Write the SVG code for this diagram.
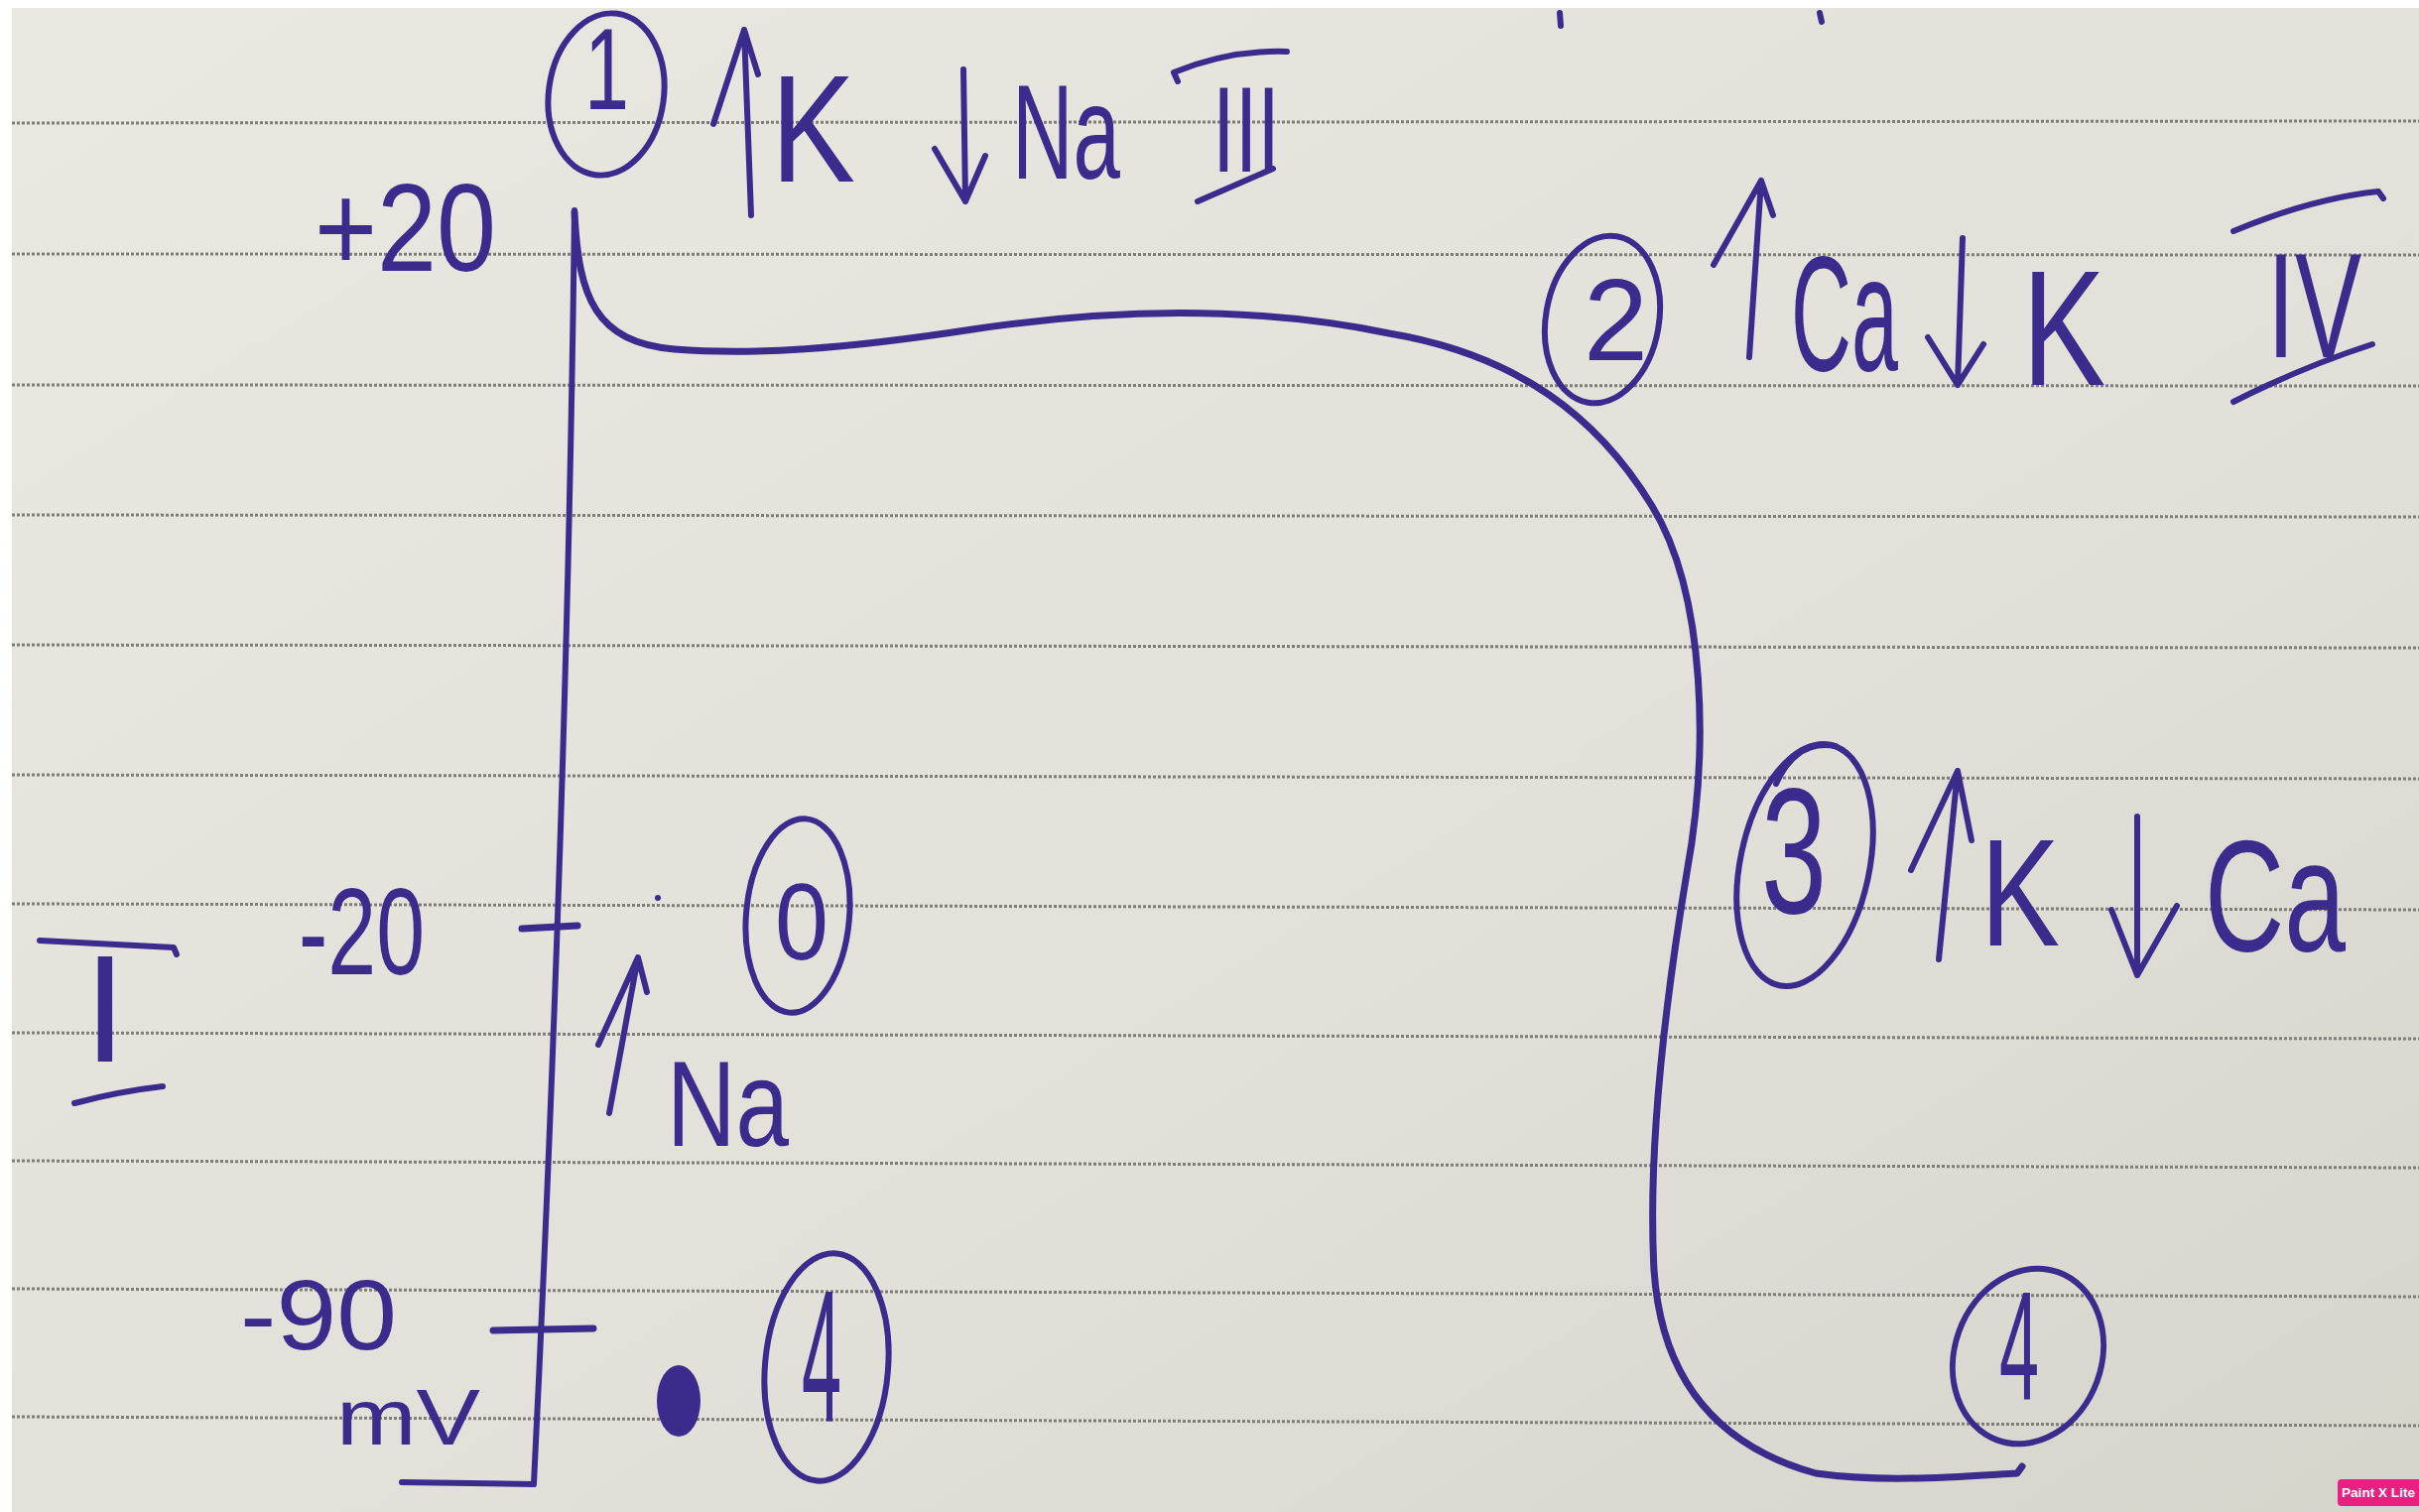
<svg xmlns="http://www.w3.org/2000/svg" width="2438" height="1524" viewBox="0 0 2438 1524">
<defs>
<linearGradient id="paper" x1="0" y1="0" x2="1" y2="1">
<stop offset="0" stop-color="#e9e8e1"/>
<stop offset="0.6" stop-color="#e2e0d8"/>
<stop offset="1" stop-color="#d6d4cb"/>
</linearGradient>
<style>
.rule{stroke:#7f7d78;stroke-width:3;stroke-dasharray:3 2;fill:none}
.ink{fill:none;stroke:#3b2b8d;stroke-width:6;stroke-linecap:round;stroke-linejoin:round}
.thick{stroke-width:7}
.txt{fill:#3b2b8d;font-family:"Liberation Sans",Arial,sans-serif}
.badge{fill:#ffffff;font-family:"Liberation Sans",Arial,sans-serif;font-weight:bold;font-size:13px}
</style>
</defs>
<rect x="0" y="0" width="2438" height="1524" fill="#ffffff"/>
<rect x="12" y="8" width="2426" height="1516" fill="url(#paper)"/>
<g id="rules">
<line class="rule" x1="12" y1="124" x2="2438" y2="122"/>
<line class="rule" x1="12" y1="256" x2="2438" y2="257"/>
<line class="rule" x1="12" y1="388" x2="2438" y2="389"/>
<line class="rule" x1="12" y1="519" x2="2438" y2="521"/>
<line class="rule" x1="12" y1="650" x2="2438" y2="653"/>
<line class="rule" x1="12" y1="781" x2="2438" y2="785"/>
<line class="rule" x1="12" y1="911" x2="2438" y2="917"/>
<line class="rule" x1="12" y1="1041" x2="2438" y2="1047"/>
<line class="rule" x1="12" y1="1170" x2="2438" y2="1177"/>
<line class="rule" x1="12" y1="1299" x2="2438" y2="1307"/>
<line class="rule" x1="12" y1="1428" x2="2438" y2="1437"/>
</g>
<g id="fragments">
<path class="ink" d="M1572,13 L1573,26"/>
<path class="ink" d="M1834,13 L1836,22"/>
</g>
<g id="axis">
<path class="ink" d="M579,212 Q572,800 538,1496 L405,1494"/>
<path class="ink thick" d="M526,936 L582,933"/>
<path class="ink thick" d="M497,1341 L598,1339"/>
</g>
<g id="connectors">
<path id="potential-curve" class="ink thick" d="M579,214 C583,300 600,345 680,352 C760,358 850,352 980,332 C1100,314 1250,305 1400,336 C1530,358 1610,420 1665,510 C1720,600 1722,760 1700,880 C1680,1000 1660,1150 1667,1280 C1675,1400 1740,1460 1830,1485 C1900,1495 1980,1488 2033,1485 L2038,1478"/>
</g>
<g id="label-plus20">
<text class="txt" x="317" y="273" font-size="126" textLength="183" lengthAdjust="spacingAndGlyphs">+20</text>
</g>
<g id="label-minus20">
<text class="txt" x="301" y="982" font-size="125" textLength="127" lengthAdjust="spacingAndGlyphs">-20</text>
</g>
<g id="label-minus90">
<text class="txt" x="242" y="1360" font-size="100" textLength="158" lengthAdjust="spacingAndGlyphs">-90</text>
<text class="txt" x="339" y="1456" font-size="80" textLength="145" lengthAdjust="spacingAndGlyphs">mV</text>
</g>
<g id="label-I">
<path class="ink" d="M40,948 L175,955 L178,962"/>
<text class="txt" x="106" y="1070" font-size="154" text-anchor="middle">I</text>
<path class="ink" d="M75,1112 Q120,1100 164,1095"/>
</g>
<g id="phase-1">
<ellipse class="ink" cx="611" cy="95" rx="58" ry="82" transform="rotate(8 611 95)"/>
<text class="txt" x="589" y="110" font-size="116" textLength="45" lengthAdjust="spacingAndGlyphs">1</text>
<path class="ink" d="M757,217 L750,30 M719,125 L750,30 L764,75"/>
<text class="txt" x="777" y="183" font-size="154" textLength="85" lengthAdjust="spacingAndGlyphs">K</text>
<path class="ink" d="M971,70 L973,203 M942,150 L973,203 L993,157"/>
<text class="txt" x="1020" y="180" font-size="135" textLength="109" lengthAdjust="spacingAndGlyphs">Na</text>
<path class="ink" d="M1187,82 L1183,73 Q1240,50 1297,52"/>
<text class="txt" x="1222" y="173" font-size="123" textLength="68" lengthAdjust="spacingAndGlyphs">III</text>
<path class="ink" d="M1207,203 L1283,170"/>
</g>
<g id="phase-2">
<ellipse class="ink" cx="1615" cy="322" rx="57" ry="85" transform="rotate(10 1615 322)"/>
<text class="txt" x="1596" y="363" font-size="116" textLength="65" lengthAdjust="spacingAndGlyphs">2</text>
<path class="ink" d="M1763,360 L1775,182 M1727,267 L1775,182 L1787,217"/>
<text class="txt" x="1805" y="373" font-size="165" textLength="108" lengthAdjust="spacingAndGlyphs">Ca</text>
<path class="ink" d="M1978,240 L1973,388 M1943,340 L1973,388 L1999,347"/>
<text class="txt" x="2038" y="388" font-size="165" textLength="84" lengthAdjust="spacingAndGlyphs">K</text>
<path class="ink" d="M2251,233 Q2330,200 2397,193 L2402,200"/>
<text class="txt" x="2285" y="360" font-size="150" textLength="95" lengthAdjust="spacingAndGlyphs">IV</text>
<path class="ink" d="M2251,405 Q2320,370 2391,347"/>
</g>
<g id="phase-3">
<ellipse class="ink" cx="1819" cy="872" rx="65" ry="124" transform="rotate(12 1819 872)"/>
<path class="ink" d="M1790,790 Q1810,745 1850,752"/>
<text class="txt" x="1775" y="920" font-size="180" textLength="66" lengthAdjust="spacingAndGlyphs">3</text>
<path class="ink" d="M1954,967 L1973,777 M1926,877 L1973,777 L1987,847"/>
<text class="txt" x="1996" y="953" font-size="154" textLength="80" lengthAdjust="spacingAndGlyphs">K</text>
<path class="ink" d="M2154,823 L2154,983 M2128,917 L2154,983 L2194,913"/>
<text class="txt" x="2222" y="958" font-size="160" textLength="142" lengthAdjust="spacingAndGlyphs">Ca</text>
</g>
<g id="phase-0">
<circle cx="663" cy="905" r="3" fill="#3b2b8d"/>
<ellipse class="ink" cx="804" cy="923" rx="52" ry="98" transform="rotate(5 804 923)"/>
<text class="txt" x="781" y="967" font-size="110" textLength="54" lengthAdjust="spacingAndGlyphs">0</text>
<path class="ink" d="M614,1122 L643,965 M603,1053 L643,965 L652,1000"/>
<text class="txt" x="672" y="1155" font-size="123" textLength="123" lengthAdjust="spacingAndGlyphs">Na</text>
</g>
<g id="phase-4-left">
<ellipse cx="684" cy="1412" rx="22" ry="36" fill="#3b2b8d"/>
<ellipse class="ink" cx="833" cy="1378" rx="62" ry="115" transform="rotate(5 833 1378)"/>
<text class="txt" x="808" y="1433" font-size="190" textLength="40" lengthAdjust="spacingAndGlyphs">4</text>
</g>
<g id="phase-4-right">
<ellipse class="ink" cx="2044" cy="1367" rx="74" ry="90" transform="rotate(20 2044 1367)"/>
<text class="txt" x="2015" y="1410" font-size="155" textLength="40" lengthAdjust="spacingAndGlyphs">4</text>
</g>
<g id="badge">
<rect x="2356" y="1491" width="90" height="27" rx="4" fill="#ec1e82"/>
<text class="badge" x="2360" y="1509" textLength="74" lengthAdjust="spacingAndGlyphs">Paint X Lite</text>
</g>
</svg>
